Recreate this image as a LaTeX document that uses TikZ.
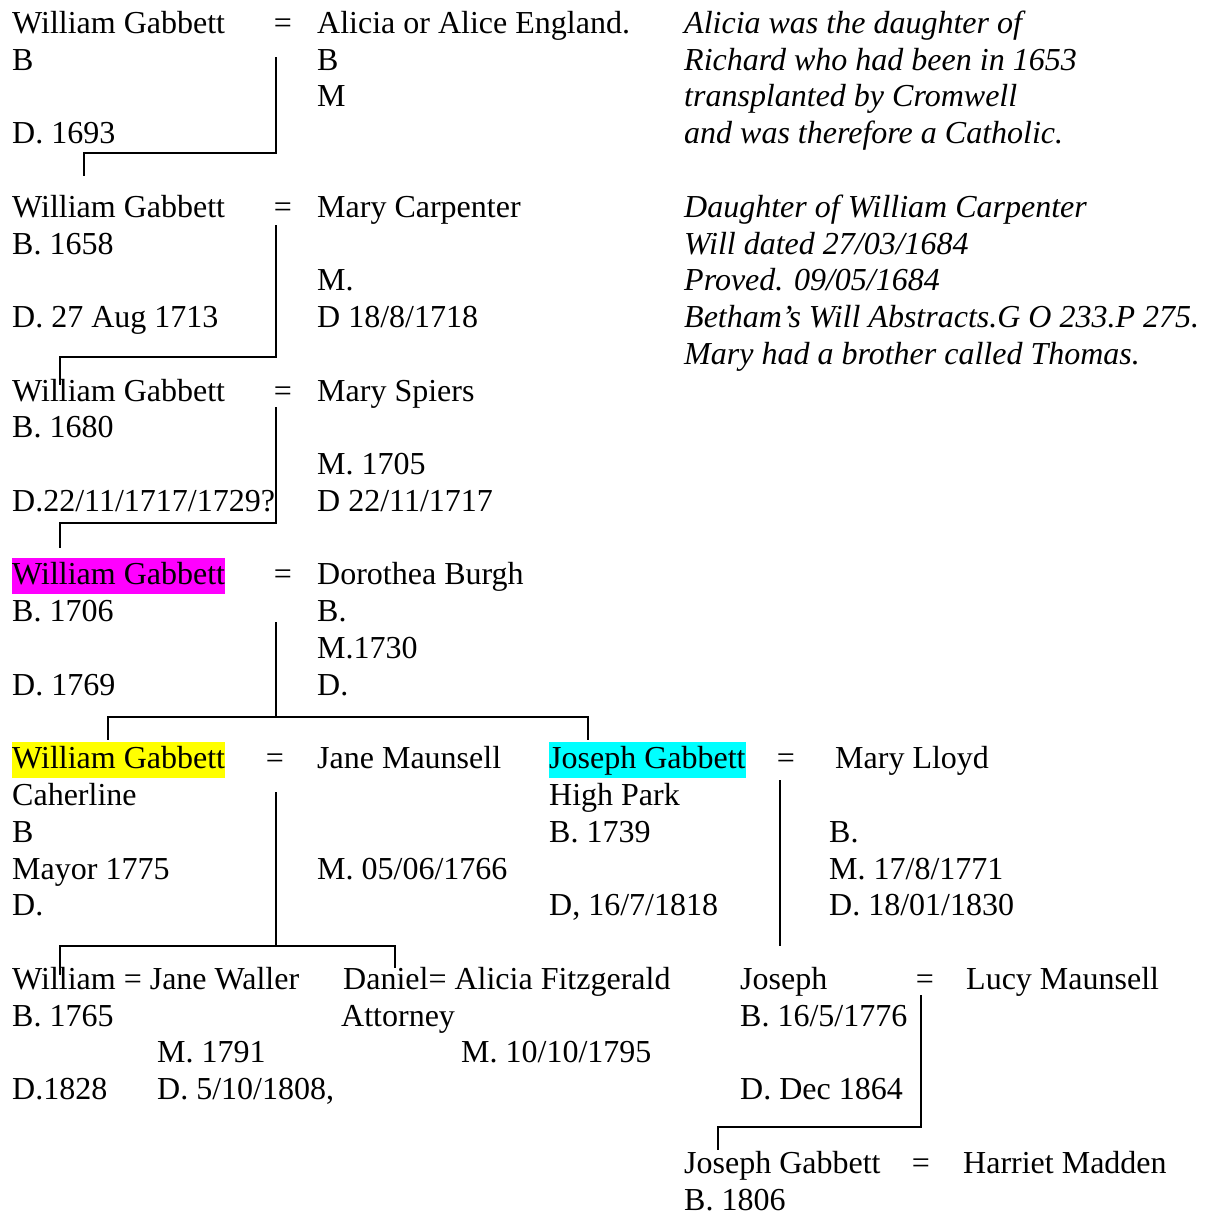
\documentclass[tikz,border=0pt]{standalone}
\usepackage{fontspec}
\setmainfont{Liberation Serif}
\definecolor{hlpink}{RGB}{255,0,255}
\definecolor{hlyellow}{RGB}{255,255,0}
\definecolor{hlcyan}{RGB}{0,255,255}
\tikzset{
  txt/.style={anchor=base west,inner sep=0pt},
  note/.style={txt,font=\fontsize{32}{36}\selectfont\itshape},
  eqs/.style={anchor=base,inner sep=0pt},
  mark/.style={txt,fill=#1,text height=27pt,text depth=9pt},
  tree/.style={line width=1.4pt}
}
\begin{document}
\begin{tikzpicture}[x=1pt,y=1pt,font=\fontsize{32}{36}\selectfont]
  \def\dy{36.77}
  \def\b{33.4}
  \useasboundingbox (0,0) rectangle (1211,-1213);
  % first generation
  \node[txt] (wg1) at (12,{-\b}) {William Gabbett};
  \node[eqs] (eq1) at (283,{-\b}) {=};
  \node[txt] (ae) at (317,{-\b}) {Alicia or Alice England.};
  \node[txt] (wg1b) at (12,{-\b-\dy}) {B};
  \node[txt] (aeb) at (317,{-\b-\dy}) {B};
  \node[txt] (aem) at (317,{-\b-2*\dy}) {M};
  \node[txt] (wg1d) at (12,{-\b-3*\dy}) {D. 1693};
  \node[note] (n1) at (684,{-\b}) {Alicia was the daughter of};
  \node[note] (n2) at (684,{-\b-\dy}) {Richard who had been in 1653};
  \node[note] (n3) at (684,{-\b-2*\dy}) {transplanted by Cromwell};
  \node[note] (n4) at (684,{-\b-3*\dy}) {and was therefore a Catholic.};
  % second generation
  \node[txt] (wg2) at (12,{-\b-5*\dy}) {William Gabbett};
  \node[eqs] (eq2) at (283,{-\b-5*\dy}) {=};
  \node[txt] (mc) at (317,{-\b-5*\dy}) {Mary Carpenter};
  \node[txt] (wg2b) at (12,{-\b-6*\dy}) {B. 1658};
  \node[txt] (mcm) at (317,{-\b-7*\dy}) {M.};
  \node[txt] (wg2d) at (12,{-\b-8*\dy}) {D. 27 Aug 1713};
  \node[txt] (mcd) at (317,{-\b-8*\dy}) {D 18/8/1718};
  \node[note] (n5) at (684,{-\b-5*\dy}) {Daughter of William Carpenter};
  \node[note] (n6) at (684,{-\b-6*\dy}) {Will dated 27/03/1684};
  \node[note] (n7) at (684,{-\b-7*\dy}) {Proved. 09/05/1684};
  \node[note] (n8) at (684,{-\b-8*\dy}) {Betham’s Will Abstracts.G O 233.P 275.};
  \node[note] (n9) at (684,{-\b-9*\dy}) {Mary had a brother called Thomas.};
  % third generation
  \node[txt] (wg3) at (12,{-\b-10*\dy}) {William Gabbett};
  \node[eqs] (eq3) at (283,{-\b-10*\dy}) {=};
  \node[txt] (ms) at (317,{-\b-10*\dy}) {Mary Spiers};
  \node[txt] (wg3b) at (12,{-\b-11*\dy}) {B. 1680};
  \node[txt] (msm) at (317,{-\b-12*\dy}) {M. 1705};
  \node[txt] (wg3d) at (12,{-\b-13*\dy}) {D.22/11/1717/1729?};
  \node[txt] (msd) at (317,{-\b-13*\dy}) {D 22/11/1717};
  % fourth generation
  \node[mark=hlpink] (wg4) at (12,{-\b-15*\dy}) {William Gabbett};
  \node[eqs] (eq4) at (283,{-\b-15*\dy}) {=};
  \node[txt] (db) at (317,{-\b-15*\dy}) {Dorothea Burgh};
  \node[txt] (wg4b) at (12,{-\b-16*\dy}) {B. 1706};
  \node[txt] (dbb) at (317,{-\b-16*\dy}) {B.};
  \node[txt] (dbm) at (317,{-\b-17*\dy}) {M.1730};
  \node[txt] (wg4d) at (12,{-\b-18*\dy}) {D. 1769};
  \node[txt] (dbd) at (317,{-\b-18*\dy}) {D.};
  % fifth generation
  \node[mark=hlyellow] (wg5) at (12,{-\b-20*\dy}) {William Gabbett};
  \node[eqs] (eq5) at (275,{-\b-20*\dy}) {=};
  \node[txt] (jm) at (317,{-\b-20*\dy}) {Jane Maunsell};
  \node[txt] (wg5p) at (12,{-\b-21*\dy}) {Caherline};
  \node[txt] (wg5b) at (12,{-\b-22*\dy}) {B};
  \node[txt] (wg5y) at (12,{-\b-23*\dy}) {Mayor 1775};
  \node[txt] (jmm) at (317,{-\b-23*\dy}) {M. 05/06/1766};
  \node[txt] (wg5d) at (12,{-\b-24*\dy}) {D.};
  \node[mark=hlcyan] (jg5) at (549,{-\b-20*\dy}) {Joseph Gabbett};
  \node[eqs] (eq6) at (786,{-\b-20*\dy}) {=};
  \node[txt] (ml) at (835,{-\b-20*\dy}) {Mary Lloyd};
  \node[txt] (jg5p) at (549,{-\b-21*\dy}) {High Park};
  \node[txt] (jg5b) at (549,{-\b-22*\dy}) {B. 1739};
  \node[txt] (mlb) at (829,{-\b-22*\dy}) {B.};
  \node[txt] (mlm) at (829,{-\b-23*\dy}) {M. 17/8/1771};
  \node[txt] (jg5d) at (549,{-\b-24*\dy}) {D, 16/7/1818};
  \node[txt] (mld) at (829,{-\b-24*\dy}) {D. 18/01/1830};
  % sixth generation
  \node[txt] (w6) at (12,{-\b-26*\dy}) {William = Jane Waller};
  \node[txt] (w6b) at (12,{-\b-27*\dy}) {B. 1765};
  \node[txt] (jwm) at (157,{-\b-28*\dy}) {M. 1791};
  \node[txt] (w6d) at (12,{-\b-29*\dy}) {D.1828};
  \node[txt] (jwd) at (157,{-\b-29*\dy}) {D. 5/10/1808,};
  \node[txt] (d6) at (343,{-\b-26*\dy}) {Daniel= Alicia Fitzgerald};
  \node[txt] (d6a) at (341,{-\b-27*\dy}) {Attorney};
  \node[txt] (afm) at (461,{-\b-28*\dy}) {M. 10/10/1795};
  \node[txt] (j6) at (740,{-\b-26*\dy}) {Joseph};
  \node[eqs] (eq7) at (925,{-\b-26*\dy}) {=};
  \node[txt] (lm) at (966,{-\b-26*\dy}) {Lucy Maunsell};
  \node[txt] (j6b) at (740,{-\b-27*\dy}) {B. 16/5/1776};
  \node[txt] (j6d) at (740,{-\b-29*\dy}) {D. Dec 1864};
  % seventh generation
  \node[txt] (jg7) at (684,{-\b-31*\dy}) {Joseph Gabbett};
  \node[eqs] (eq8) at (921,{-\b-31*\dy}) {=};
  \node[txt] (hm) at (963,{-\b-31*\dy}) {Harriet Madden};
  \node[txt] (jg7b) at (684,{-\b-32*\dy}) {B. 1806};
  % descent lines
  \coordinate (m1) at (276,-57);  \coordinate (c1) at (84,-176);
  \coordinate (m2) at (276,-225); \coordinate (c2) at (60,-385);
  \coordinate (m3) at (276,-407); \coordinate (c3) at (60,-548);
  \coordinate (m4) at (276,-622); \coordinate (c4) at (108,-740); \coordinate (c5) at (588,-740);
  \coordinate (m5) at (276,-792); \coordinate (c6) at (60,-975);  \coordinate (c7) at (395,-968);
  \coordinate (m6) at (780,-780); \coordinate (c8) at (780,-946);
  \coordinate (m7) at (921,-995); \coordinate (c9) at (718,-1150);
  \draw[tree] (m1) -- ++(0,-96) -| (c1);
  \draw[tree] (m2) -- ++(0,-132) -| (c2);
  \draw[tree] (m3) -- ++(0,-116) -| (c3);
  \draw[tree] (m4) -- ++(0,-95) -| (c4);
  \draw[tree] (m4) ++(0,-95) -| (c5);
  \draw[tree] (m5) -- ++(0,-154) -| (c6);
  \draw[tree] (m5) ++(0,-154) -| (c7);
  \draw[tree] (m6) -- (c8);
  \draw[tree] (m7) -- ++(0,-132) -| (c9);
\end{tikzpicture}
\end{document}
